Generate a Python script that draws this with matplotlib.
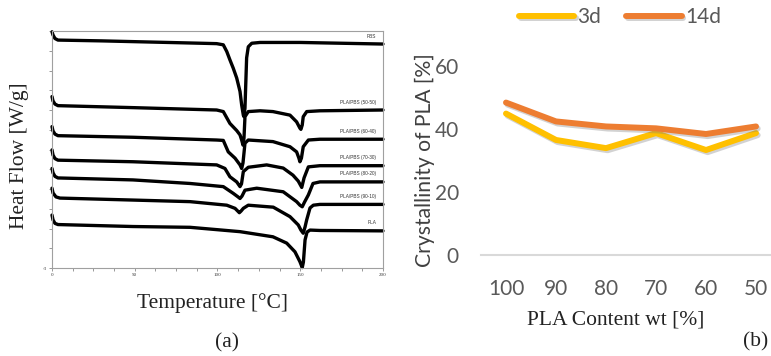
"""
DSC curves of PLA/PBS blends (a) and PLA crystallinity vs. PLA content (b).
"""

import matplotlib

matplotlib.use("Agg")
import matplotlib.patheffects as pe
import matplotlib.pyplot as plt
from matplotlib.ticker import FixedFormatter, FixedLocator, MultipleLocator

# ---- panel (a): heat flow [W/g] vs temperature [°C]
pbs_t = [0, 0.6, 1.8, 3.6, 30, 60, 90, 99.5, 103.5, 105.6, 107.5, 109.5, 111.6,
         113.6, 114.6, 115.6, 116.0, 116.6, 117.6, 118.6, 120.7, 125.7, 150, 200]
pbs_hf = [2.98, 2.90, 2.81, 2.77, 2.75, 2.72, 2.69, 2.68, 2.65, 2.48, 2.27, 2.06, 1.81,
          1.47, 1.13, 0.87, 0.83, 1.05, 2.32, 2.60, 2.69, 2.71, 2.71, 2.67]

b50_t = [0, 0.6, 1.8, 3.6, 48.9, 99.5, 103.5, 107.5, 111.6, 113.6, 114.6, 115.4, 116.0,
         116.6, 118.6, 125.7, 133.5, 143.8, 147.8, 149.8, 150.4, 151.2, 151.8, 153.9,
         161.9, 200]
b50_hf = [1.34, 1.23, 1.15, 1.11, 1.06, 1.00, 0.96, 0.66, 0.48, 0.37, 0.24, 0.11, 0.29,
          0.83, 0.96, 0.98, 0.96, 0.87, 0.70, 0.54, 0.51, 0.62, 0.83, 0.96, 0.98, 1.00]

b60_t = [0, 0.6, 1.8, 3.6, 48.9, 99.5, 103.5, 106.5, 110.6, 113.6, 114.6, 115.4, 116.6,
         118.6, 133.5, 143.8, 147.8, 149.2, 149.8, 150.7, 151.8, 154.9, 161.9, 200]
b60_hf = [0.58, 0.47, 0.39, 0.35, 0.31, 0.24, 0.23, -0.06, -0.22, -0.39, -0.48, -0.34,
          0.16, 0.24, 0.20, 0.07, -0.06, -0.22, -0.31, -0.22, 0.07, 0.24, 0.26, 0.26]

b70_t = [0, 0.6, 1.8, 3.6, 48.9, 99.5, 104.5, 107.5, 111.6, 113.6, 114.5, 115.6, 118.6,
         129.7, 139.7, 145.6, 148.8, 150.9, 152.3, 154.9, 161.9, 200]
b70_hf = [-0.01, -0.14, -0.23, -0.27, -0.31, -0.39, -0.48, -0.69, -0.82, -0.94, -0.87,
          -0.56, -0.45, -0.39, -0.47, -0.65, -0.80, -0.96, -0.72, -0.44, -0.41, -0.41]

b80_t = [0, 0.6, 1.8, 3.6, 48.9, 83.4, 103.5, 109.5, 112.4, 113.6, 114.8, 116.6, 123.7,
         139.7, 147.8, 149.8, 151.2, 152.6, 154.9, 157.7, 161.9, 200]
b80_hf = [-0.48, -0.59, -0.68, -0.72, -0.77, -0.86, -0.94, -1.11, -1.20, -1.24, -1.18,
          -1.03, -0.98, -1.07, -1.32, -1.41, -1.45, -1.33, -1.15, -0.86, -0.82, -0.82]

b90_t = [0, 0.6, 2.4, 4.8, 48.9, 83.4, 105.6, 110.6, 113.2, 114.2, 115.6, 118.6, 133.7,
         143.8, 148.8, 150.4, 151.8, 152.9, 153.9, 155.9, 157.9, 161.9, 200]
b90_hf = [-0.98, -1.10, -1.20, -1.23, -1.28, -1.32, -1.41, -1.49, -1.60, -1.56, -1.49,
          -1.41, -1.46, -1.70, -1.91, -2.04, -2.12, -1.96, -1.78, -1.48, -1.41, -1.39, -1.39]

pla_t = [0, 0.6, 1.8, 3.6, 48.9, 83.4, 113.6, 133.5, 141.8, 146.8, 149.8, 151.2, 151.9,
         152.9, 154.1, 155.9, 161.9, 200]
pla_hf = [-1.66, -1.78, -1.87, -1.90, -1.95, -1.97, -2.08, -2.21, -2.37, -2.59, -2.84,
          -2.99, -2.85, -2.29, -2.09, -2.04, -2.05, -2.06]

curve_names = ["PBS", "PLA/PBS (50-50)", "PLA/PBS (60-40)", "PLA/PBS (70-30)",
               "PLA/PBS (80-20)", "PLA/PBS (90-10)", "PLA"]
curve_temps = [pbs_t, b50_t, b60_t, b70_t, b80_t, b90_t, pla_t]
curve_flows = [pbs_hf, b50_hf, b60_hf, b70_hf, b80_hf, b90_hf, pla_hf]

temp_ticks = [0, 50, 100, 150, 200]
flow_ticks = [-3, -2.5, -2, -1.5, -1, -0.5, 0, 0.5, 1, 1.5, 2, 2.5, 3]
flow_tick_labels = ["-3"] + [""] * 12

# ---- panel (b): crystallinity of PLA [%]
pla_content = ["100", "90", "80", "70", "60", "50"]
cryst_3d = [45.0, 36.6, 34.0, 38.8, 33.4, 38.8]
cryst_14d = [48.5, 42.5, 40.9, 40.3, 38.5, 40.9]

W, H = 771, 356
fig = plt.figure(figsize=(W / 100, H / 100), dpi=100)


def frac(x0, y0, x1, y1):
    """pixel box (top-left origin) -> figure axes rect"""
    return [x0 / W, 1 - y1 / H, (x1 - x0) / W, (y1 - y0) / H]


# ---------------- (a)
ax_a = fig.add_axes(frac(52, 31, 383, 268))
for t, hf in zip(curve_temps, curve_flows):
    ax_a.plot(t, hf, color="black", lw=2.4, solid_joinstyle="round",
              solid_capstyle="round", clip_on=False)
for name, hf in zip(curve_names, curve_flows):
    ax_a.text(196, hf[-1] + 0.2, name, ha="right", va="center", fontsize=3.4,
              color="#333333", family="Liberation Sans")

ax_a.set_xlim(0, 200)
ax_a.set_ylim(-3, 3)
ax_a.xaxis.set_major_locator(FixedLocator(temp_ticks))
ax_a.xaxis.set_minor_locator(MultipleLocator(12.5))
ax_a.yaxis.set_major_locator(FixedLocator(flow_ticks))
ax_a.yaxis.set_major_formatter(FixedFormatter(flow_tick_labels))
ax_a.tick_params(which="both", direction="out", length=2, width=0.6, color="#888888",
                 labelsize=3.6, pad=1.5, labelcolor="#333333")
for lbl in ax_a.get_xticklabels() + ax_a.get_yticklabels():
    lbl.set_family("Liberation Serif")
for sp in ax_a.spines.values():
    sp.set_color("#a0a0a0")
    sp.set_linewidth(0.8)

fig.text(20 / W, 1 - 156 / H, "Heat Flow [W/g]", rotation=90, ha="center", va="center",
         fontsize=15.5, family="Liberation Serif", color="#222222")
fig.text(212 / W, 1 - 303 / H, "Temperature [°C]", ha="center", va="center",
         fontsize=15.5, family="Liberation Serif", color="#222222")
fig.text(227 / W, 1 - 343 / H, "(a)", ha="center", va="center",
         fontsize=15.5, family="Liberation Serif", color="#222222")

# ---------------- (b)
ax_b = fig.add_axes(frac(481, 35, 781, 255))
x = range(len(pla_content))
shadow = [pe.SimpleLineShadow(offset=(1.2, -1.5), shadow_color="#7f7f7f", alpha=0.35),
          pe.Normal()]
ax_b.plot(x, cryst_3d, color="#FFC000", lw=4.3, label="3d", path_effects=shadow,
          solid_joinstyle="round", solid_capstyle="round")
ax_b.plot(x, cryst_14d, color="#ED7D31", lw=4.3, label="14d", path_effects=shadow,
          solid_joinstyle="round", solid_capstyle="round")

ax_b.set_xlim(-0.5, len(pla_content) - 0.5)
ax_b.set_ylim(0, 70)
ax_b.set_yticks([0, 20, 40, 60])
ax_b.set_xticks(list(x))
ax_b.set_xticklabels(pla_content)
ax_b.tick_params(length=0, labelsize=15, labelcolor="#595959")
ax_b.tick_params(axis="x", pad=17)
ax_b.tick_params(axis="y", pad=16)
for lbl in ax_b.get_xticklabels() + ax_b.get_yticklabels():
    lbl.set_family("Lato")
for side in ["top", "right", "left"]:
    ax_b.spines[side].set_visible(False)
ax_b.spines["bottom"].set_color("#d9d9d9")
ax_b.spines["bottom"].set_linewidth(1.5)
ax_b.patch.set_alpha(0)

leg = fig.legend(loc="center", bbox_to_anchor=(620 / W, 1 - 17 / H), ncol=2,
                 frameon=False, handlelength=2.65, handletextpad=0.15,
                 columnspacing=1.2, prop={"family": "Lato", "size": 15})
for txt in leg.get_texts():
    txt.set_color("#595959")

fig.text(425 / W, 1 - 160 / H, "Crystallinity of PLA [%]", rotation=90, ha="center",
         va="center", fontsize=15.2, family="Lato", color="#404040")
fig.text(616 / W, 1 - 320 / H, "PLA Content wt [%]", ha="center", va="center",
         fontsize=15.5, family="Liberation Serif", color="#222222")
fig.text(768 / W, 1 - 342 / H, "(b)", ha="right", va="center",
         fontsize=15.5, family="Liberation Serif", color="#222222")

fig.savefig("out.png", dpi=100)
plt.close(fig)
